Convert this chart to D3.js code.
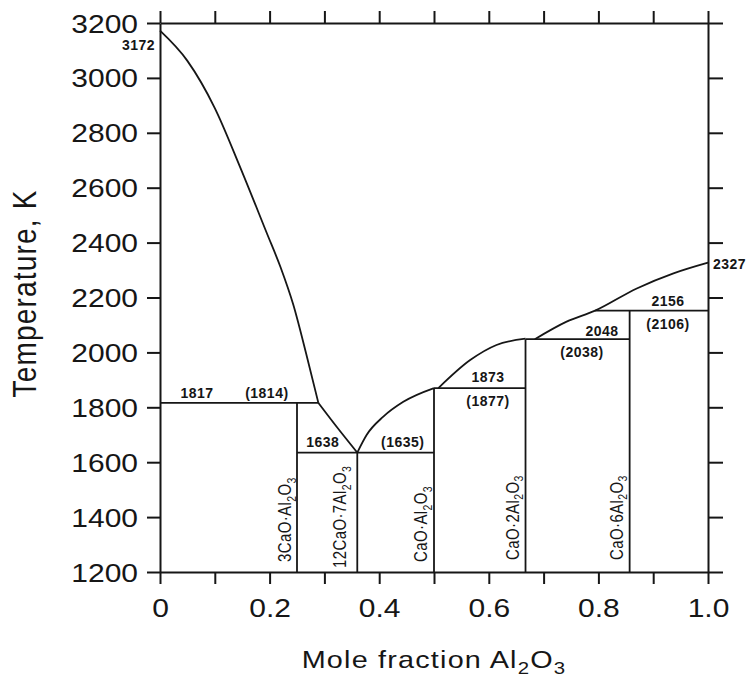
<!DOCTYPE html>
<html lang="en">
<head>
<meta charset="UTF-8">
<title>CaO - Al2O3 phase diagram</title>
<script src="https://d3js.org/d3.v7.min.js"></script>
<style>
  body { margin: 0; background: #fff; }
  svg { display: block; }
  text { font-family: "Liberation Sans", Arial, sans-serif; fill: #161616; }
  .frame path, .frame line { stroke: #161616; stroke-width: 2; }
  .phase { fill: none; stroke: #161616; stroke-width: 1.8; }
  .num { font-size: 14px; font-weight: bold; letter-spacing: 0.5px; }
</style>
</head>
<body>
<script>
const width = 749, height = 682;

// axis ticks
const xMajor = [0, 0.2, 0.4, 0.6, 0.8, 1.0];
const xMajorLabels = ["0", "0.2", "0.4", "0.6", "0.8", "1.0"];
const xMinor = [0.1, 0.3, 0.5, 0.7, 0.9];
const yTicks = [1200, 1400, 1600, 1800, 2000, 2200, 2400, 2600, 2800, 3000, 3200];

// liquidus branches, [mole fraction Al2O3, K]
const liquidusCaO = [[0, 3172], [0.05, 3062], [0.1, 2890], [0.146, 2676], [0.195, 2434], [0.22, 2310], [0.243, 2175], [0.268, 1985], [0.289, 1816]];
const liquidusC3A = [[0.289, 1816], [0.322, 1730], [0.36, 1635]];
const liquidusC12A7 = [[0.36, 1635], [0.377, 1699], [0.4075, 1766], [0.444, 1820], [0.5, 1870]];
const liquidusCA = [[0.508, 1870], [0.566, 1972], [0.614, 2027], [0.667, 2050]];
const liquidusHigh = [[0.684, 2048], [0.742, 2112], [0.794, 2152], [0.87, 2233], [0.937, 2288], [1.0, 2327]];

// invariant lines, [from, to, K]
const isotherms = [[0, 0.289, 1816], [0.25, 0.5, 1635], [0.5, 0.667, 1870], [0.667, 0.857, 2048], [0.794, 1.0, 2152]];

// compounds
const compoundX = [0.25, 0.36, 0.5, 0.667, 0.857];
const compoundTop = [1816, 1635, 1870, 2048, 2152];
const compoundNames = ["3CaO·Al_2O_3", "12CaO·7Al_2O_3", "CaO·Al_2O_3", "CaO·2Al_2O_3", "CaO·6Al_2O_3"];

// temperature notes and where they sit (mole fraction, K)
const tempLabels = ["1817", "(1814)", "1638", "(1635)", "1873", "(1877)", "2048", "(2038)", "2156", "(2106)", "2327", "3172"];
const tempLabelAt = [[0.0675, 1834], [0.195, 1834], [0.297, 1655], [0.443, 1655], [0.5985, 1892], [0.5985, 1805],
                     [0.8066, 2060], [0.77, 1983], [0.927, 2169], [0.927, 2085], [1.009, 2304], [-0.009, 3102]];
const tempAnchor = ["middle", "middle", "middle", "middle", "middle", "middle", "middle", "middle", "middle", "middle", "start", "end"];

// label nudges (px) for the rotated compound names
const compoundDx = [-6, -11, -7, -7, -7];
const compoundDy = [-10, -4, -10, -12, -12];

const svg = d3.select("body").append("svg")
    .attr("width", width)
    .attr("height", height);

const x = d3.scaleLinear().domain([0, 1]).range([160, 708]);
const y = d3.scaleLinear().domain([1200, 3200]).range([572, 23]);

const frame = svg.append("g").attr("class", "frame");

// bottom
frame.append("g")
    .attr("transform", `translate(0,${y(1200)})`)
    .call(d3.axisBottom(x).tickValues(xMajor).tickSize(12).tickSizeOuter(0)
        .tickFormat((d, i) => xMajorLabels[i]))
    .call(g => g.selectAll("text")
        .attr("y", 0).attr("dy", null)
        .attr("transform", "translate(0,45) scale(1.2,1)")
        .style("font-size", "25px"));
frame.append("g")
    .attr("transform", `translate(0,${y(1200)})`)
    .call(d3.axisBottom(x).tickValues(xMinor).tickSize(12).tickFormat(""))
    .call(g => g.select(".domain").remove());

// top
frame.append("g")
    .attr("transform", `translate(0,${y(3200)})`)
    .call(d3.axisTop(x).tickValues(xMajor.concat(xMinor)).tickSize(12).tickSizeOuter(0).tickFormat(""));

// left
frame.append("g")
    .attr("transform", `translate(${x(0)},0)`)
    .call(d3.axisLeft(y).tickValues(yTicks).tickSize(13).tickSizeOuter(0).tickFormat(d3.format("d")))
    .call(g => g.selectAll("text")
        .attr("x", 0).attr("dy", "0.36em")
        .attr("transform", "translate(-22,0) scale(1.2,1)")
        .style("font-size", "25px"));

// right
frame.append("g")
    .attr("transform", `translate(${x(1)},0)`)
    .call(d3.axisRight(y).tickValues(yTicks).tickSize(15).tickSizeOuter(0).tickFormat(""));

// axis titles
const xTitle = svg.append("text")
    .attr("transform", `translate(${(x(0) + x(1)) / 2},668) scale(1.2,1)`)
    .attr("text-anchor", "middle")
    .style("font-size", "24px")
    .style("letter-spacing", "1px");
xTitle.append("tspan").text("Mole fraction Al");
xTitle.append("tspan").attr("dy", 6).style("font-size", "17px").text("2");
xTitle.append("tspan").attr("dy", -6).text("O");
xTitle.append("tspan").attr("dy", 6).style("font-size", "17px").text("3");

svg.append("text")
    .attr("transform", `translate(36,${(y(1200) + y(3200)) / 2 - 4}) scale(1.2,1) rotate(-90)`)
    .attr("text-anchor", "middle")
    .style("font-size", "28px")
    .style("letter-spacing", "1.2px")
    .text("Temperature, K");

// phase boundaries
const line = d3.line().x(d => x(d[0])).y(d => y(d[1])).curve(d3.curveMonotoneX);
const plot = svg.append("g");

plot.selectAll("path.liq")
    .data([liquidusCaO, liquidusC3A, liquidusC12A7, liquidusCA, liquidusHigh])
    .join("path")
    .attr("class", "phase liq")
    .attr("d", line);

plot.selectAll("line.iso")
    .data(isotherms)
    .join("line")
    .attr("class", "phase iso")
    .attr("x1", d => x(d[0])).attr("x2", d => x(d[1]))
    .attr("y1", d => y(d[2])).attr("y2", d => y(d[2]));

plot.selectAll("line.cmp")
    .data(compoundX)
    .join("line")
    .attr("class", "phase cmp")
    .attr("x1", d => x(d)).attr("x2", d => x(d))
    .attr("y1", y(1200)).attr("y2", (d, i) => y(compoundTop[i]));

// compound names, written upward
compoundNames.forEach((name, i) => {
    const t = plot.append("text")
        .attr("transform", `translate(${x(compoundX[i]) + compoundDx[i]},${y(1200) + compoundDy[i]}) scale(1.2,1) rotate(-90)`)
        .style("font-size", "15px")
        .style("letter-spacing", "0.4px");
    name.split(/(_\d)/).filter(s => s.length).forEach(part => {
        if (part[0] === "_") {
            t.append("tspan").attr("dy", 4).style("font-size", "10.5px").text(part.slice(1));
        } else {
            const sp = t.append("tspan").text(part);
            if (t.selectAll("tspan").size() > 1) sp.attr("dy", -4);
        }
    });
});

// temperature notes
plot.selectAll("text.num")
    .data(tempLabels)
    .join("text")
    .attr("class", "num")
    .attr("x", (d, i) => x(tempLabelAt[i][0]))
    .attr("y", (d, i) => y(tempLabelAt[i][1]))
    .attr("text-anchor", (d, i) => tempAnchor[i])
    .text(d => d);
</script>
</body>
</html>
